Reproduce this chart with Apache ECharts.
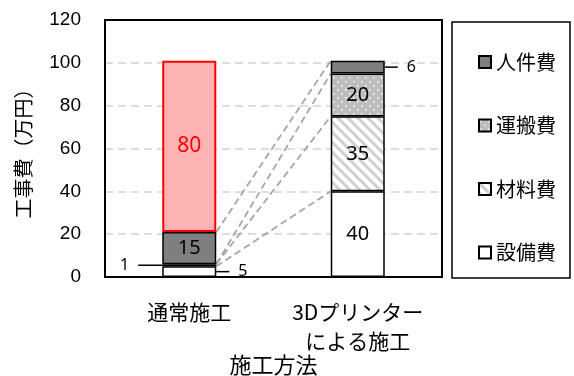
<!DOCTYPE html>
<html>
<head>
<meta charset="utf-8">
<script src="https://cdn.jsdelivr.net/npm/echarts@6/dist/echarts.min.js"></script>
<style>
  html, body { margin: 0; padding: 0; background: #fff; }
  #chart { width: 574px; height: 376px; }
</style>
</head>
<body>
<div id="chart"></div>
<script>
const categories = ['通常施工', '3Dプリンター\nによる施工'];
const setsubi = [5, 40];   // 設備費
const zairyo = [1, 35];    // 材料費
const unpan = [0, 20];     // 運搬費
const jinken = [15, 6];    // 人件費
const extra = [80, 0];     // 通常施工の赤い部分
const yMin = 0;
const yMax = 120;
const yStep = 20;

const BAR_W = 54;
const JP_FONT = '"Noto Sans CJK JP", sans-serif';
const NUM_FONT = '"Liberation Sans", "Noto Sans CJK JP", sans-serif';

const makePattern = (size, draw) => {
  const c = document.createElement('canvas');
  c.width = size;
  c.height = size;
  draw(c.getContext('2d'), size);
  return { image: c, repeat: 'repeat' };
};

const dotPattern = makePattern(8, (ctx, s) => {
  ctx.fillStyle = '#bdbdbd';
  ctx.fillRect(0, 0, s, s);
  ctx.fillStyle = '#ffffff';
  ctx.fillRect(1, 1, 1.5, 1.5);
  ctx.fillRect(5, 5, 1.5, 1.5);
});

const hatchPattern = makePattern(10, (ctx, s) => {
  ctx.fillStyle = '#ffffff';
  ctx.fillRect(0, 0, s, s);
  ctx.strokeStyle = '#cfcfcf';
  ctx.lineWidth = 3;
  ctx.beginPath();
  ctx.moveTo(-5, -5); ctx.lineTo(15, 15);
  ctx.moveTo(-5, 5); ctx.lineTo(5, 15);
  ctx.moveTo(5, -5); ctx.lineTo(15, 5);
  ctx.stroke();
});

const noZero = arr => arr.map(v => (v === 0 ? '-' : v));
const bigOnly = p => (p.value >= 10 ? p.value : '');

const barLabel = {
  show: true,
  position: 'inside',
  formatter: bigOnly,
  fontSize: 20,
  color: '#000',
  fontFamily: '"Noto Sans", sans-serif'
};

// series lines between stacked tops
const stackList = [setsubi, zairyo, unpan, jinken];
const connectorData = stackList.map((_, k) => {
  const top = i => stackList.slice(0, k + 1).reduce((s, a) => s + a[i], 0);
  return [0, top(0), 1, top(1)];
});

// small values shown outside with a leader line: [category, center, side, value]
const calloutData = [
  [0, setsubi[0] + zairyo[0] / 2, -1, zairyo[0]],
  [0, setsubi[0] / 2, 1, setsubi[0]],
  [1, setsubi[1] + zairyo[1] + unpan[1] + jinken[1] / 2, 1, jinken[1]]
];

const chart = echarts.init(document.getElementById('chart'));

const option = {
  animation: false,
  grid: { left: 105, right: 132, top: 20, bottom: 99, containLabel: false, outerBoundsMode: 'none' },
  legend: {
    orient: 'vertical',
    left: 473,
    top: 47,
    itemWidth: 12,
    itemHeight: 12,
    itemGap: 43.5,
    icon: 'rect',
    data: ['人件費', '運搬費', '材料費', '設備費'],
    textStyle: { fontSize: 20, lineHeight: 20, color: '#000', fontFamily: JP_FONT }
  },
  xAxis: {
    type: 'category',
    data: categories,
    name: '施工方法',
    nameLocation: 'middle',
    nameGap: 77,
    nameMoveOverlap: false,
    nameTextStyle: { fontSize: 22, color: '#000', fontFamily: JP_FONT },
    axisTick: { show: false },
    axisLine: { show: false },
    axisLabel: { interval: 0, fontSize: 21, lineHeight: 29, margin: 21, color: '#000', fontFamily: JP_FONT }
  },
  yAxis: {
    type: 'value',
    min: yMin,
    max: yMax,
    interval: yStep,
    name: '工事費（万円）',
    nameLocation: 'middle',
    nameGap: 72,
    nameMoveOverlap: false,
    nameTextStyle: { fontSize: 20, color: '#000', fontFamily: JP_FONT },
    axisLine: { show: false },
    axisTick: { show: false },
    axisLabel: { fontSize: 19, margin: 24, color: '#000', fontFamily: NUM_FONT },
    splitLine: {
      show: true,
      lineStyle: { color: '#d4d4d4', width: 1.5, type: [8, 5] }
    }
  },
  graphic: [
    {
      type: 'rect',
      z: 100,
      shape: { x: 105, y: 20, width: 337, height: 257 },
      style: { fill: null, stroke: '#000', lineWidth: 2 }
    },
    {
      type: 'rect',
      z: 100,
      shape: { x: 452, y: 22, width: 118, height: 256 },
      style: { fill: null, stroke: '#000', lineWidth: 1.5 }
    }
  ],
  series: [
    {
      name: '設備費', type: 'bar', stack: 'cost', barWidth: BAR_W,
      data: noZero(setsubi),
      itemStyle: { color: '#ffffff', borderColor: '#000', borderWidth: 1.5 },
      label: barLabel
    },
    {
      name: '材料費', type: 'bar', stack: 'cost', barWidth: BAR_W,
      data: noZero(zairyo),
      itemStyle: { color: hatchPattern, borderColor: '#000', borderWidth: 1.5 },
      label: barLabel
    },
    {
      name: '運搬費', type: 'bar', stack: 'cost', barWidth: BAR_W,
      data: noZero(unpan),
      itemStyle: { color: dotPattern, borderColor: '#000', borderWidth: 1.5 },
      label: barLabel
    },
    {
      name: '人件費', type: 'bar', stack: 'cost', barWidth: BAR_W,
      data: noZero(jinken),
      itemStyle: { color: '#7f7f7f', borderColor: '#000', borderWidth: 1.5 },
      label: barLabel
    },
    {
      name: '通常', type: 'bar', stack: 'cost', barWidth: BAR_W,
      data: noZero(extra),
      itemStyle: { color: '#ffb4b4', borderColor: '#ff0000', borderWidth: 2 },
      label: Object.assign({}, barLabel, { color: '#ff0000', fontSize: 21 })
    },
    {
      type: 'custom',
      z: 1,
      encode: { x: [0, 2], y: [1, 3] },
      data: connectorData,
      renderItem: (params, api) => {
        const p1 = api.coord([api.value(0), api.value(1)]);
        const p2 = api.coord([api.value(2), api.value(3)]);
        return {
          type: 'line',
          shape: { x1: p1[0] + BAR_W / 2, y1: p1[1], x2: p2[0] - BAR_W / 2, y2: p2[1] },
          style: { stroke: '#a6a6a6', lineWidth: 1.8, lineDash: [7, 4] }
        };
      }
    },
    {
      type: 'custom',
      z: 5,
      encode: { x: 0, y: 1 },
      data: calloutData,
      renderItem: (params, api) => {
        const p = api.coord([api.value(0), api.value(1)]);
        const side = api.value(2);
        const len = side < 0 ? 24 : 13;
        const x0 = p[0] + side * BAR_W / 2;
        const x1 = x0 + side * len;
        return {
          type: 'group',
          children: [
            {
              type: 'line',
              shape: { x1: x0, y1: p[1], x2: x1, y2: p[1] },
              style: { stroke: '#000', lineWidth: 1.5 }
            },
            {
              type: 'text',
              style: {
                text: String(api.value(3)),
                x: x1 + side * 9,
                y: p[1],
                align: side < 0 ? 'right' : 'left',
                verticalAlign: 'middle',
                fontSize: 16,
                fontFamily: '"Noto Sans", sans-serif',
                fill: '#000'
              }
            }
          ]
        };
      }
    }
  ]
};

chart.setOption(option);
window.addEventListener('resize', () => chart.resize());
</script>
</body>
</html>
